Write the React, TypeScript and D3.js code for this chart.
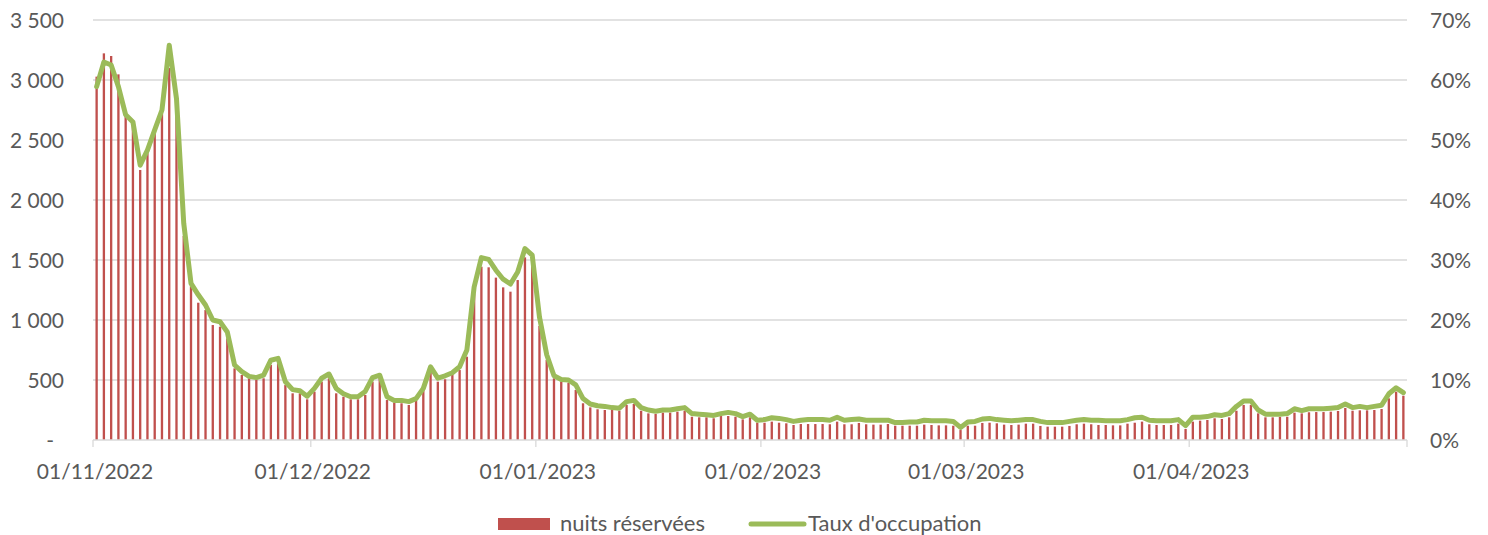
import React, { useEffect, useRef } from 'react';
import * as d3 from 'd3';

// nuits réservées, one value per day from 01/11/2022 to 30/04/2023
const nuits: number[] = [
  3028, 3222, 3200, 3047, 2700, 2650, 2250, 2390, 2555, 2720,
  3100, 2800, 1700, 1280, 1144, 1083, 958, 944, 847, 597,
  542, 514, 500, 514, 625, 639, 458, 389, 389, 339,
  403, 486, 514, 389, 361, 339, 339, 375, 486, 528,
  333, 311, 306, 292, 328, 417, 569, 486, 506, 542,
  583, 694, 1222, 1444, 1439, 1353, 1272, 1236, 1333, 1522,
  1472, 950, 667, 514, 486, 478, 417, 306, 272, 256,
  250, 250, 244, 292, 300, 244, 222, 217, 228, 228,
  236, 244, 194, 189, 189, 181, 200, 200, 194, 172,
  189, 144, 144, 153, 144, 139, 125, 133, 133, 133,
  133, 131, 153, 131, 131, 142, 131, 128, 128, 133,
  119, 119, 119, 119, 128, 125, 122, 122, 119, 83,
  119, 119, 142, 144, 139, 128, 125, 128, 136, 136,
  117, 111, 111, 111, 117, 131, 136, 131, 125, 125,
  122, 122, 136, 144, 153, 131, 125, 125, 125, 136,
  92, 153, 161, 167, 181, 175, 189, 244, 292, 292,
  222, 189, 189, 192, 194, 228, 222, 231, 233, 233,
  236, 242, 267, 244, 247, 247, 250, 258, 347, 403,
  369,
];

// taux d'occupation in %, same days
const taux: number[] = [
  58.9, 63, 62.5, 58.9, 54.2, 53, 45.8, 48.3, 51.7, 55,
  65.8, 56.9, 36.1, 26.1, 24.2, 22.5, 20, 19.7, 18, 12.5,
  11.4, 10.6, 10.4, 10.8, 13.3, 13.6, 9.7, 8.4, 8.2, 7.3,
  8.6, 10.3, 11, 8.6, 7.7, 7.2, 7.2, 8.1, 10.4, 10.8,
  7.2, 6.6, 6.6, 6.4, 6.9, 8.6, 12.2, 10.3, 10.7, 11.2,
  12.2, 15, 25.5, 30.4, 30.1, 28.3, 26.8, 26, 28, 31.9,
  30.8, 20.5, 14.2, 10.7, 10.1, 10, 9.2, 6.9, 6, 5.7,
  5.6, 5.4, 5.3, 6.4, 6.6, 5.4, 5, 4.8, 5, 5,
  5.2, 5.4, 4.4, 4.3, 4.2, 4.1, 4.4, 4.6, 4.4, 3.9,
  4.3, 3.3, 3.4, 3.7, 3.6, 3.4, 3.1, 3.3, 3.4, 3.4,
  3.4, 3.3, 3.8, 3.3, 3.4, 3.5, 3.3, 3.3, 3.3, 3.3,
  2.9, 2.9, 3, 3, 3.3, 3.2, 3.2, 3.2, 3.1, 2.1,
  3, 3.1, 3.5, 3.6, 3.4, 3.3, 3.2, 3.3, 3.4, 3.4,
  3.1, 2.9, 2.9, 2.9, 3.1, 3.3, 3.4, 3.3, 3.3, 3.2,
  3.2, 3.2, 3.4, 3.7, 3.8, 3.3, 3.2, 3.2, 3.2, 3.4,
  2.4, 3.8, 3.8, 3.9, 4.2, 4.1, 4.4, 5.6, 6.5, 6.5,
  5, 4.3, 4.3, 4.3, 4.4, 5.2, 4.9, 5.2, 5.2, 5.2,
  5.3, 5.4, 6, 5.4, 5.6, 5.4, 5.6, 5.8, 7.7, 8.7,
  7.9,
];

// first-of-month ticks (day index) and their labels; last tick closes the axis
const tickDays = [0, 30, 61, 92, 120, 151, 181];
const tickLabels = ['01/11/2022', '01/12/2022', '01/01/2023', '01/02/2023', '01/03/2023', '01/04/2023'];

const leftTicks = [0, 500, 1000, 1500, 2000, 2500, 3000, 3500];
const rightTicks = [0, 10, 20, 30, 40, 50, 60, 70];

const App: React.FC = () => {
  const ref = useRef<SVGSVGElement | null>(null);

  useEffect(() => {
    document.body.style.margin = '0';
    if (!ref.current) return;

    const width = 1488;
    const height = 535;
    const margin = { top: 20, left: 93, right: 1407, bottom: 440 };
    const font = 'Lato, "Open Sans", sans-serif';
    const textColor = '#595959';
    const gridColor = '#D9D9D9';

    const svg = d3.select(ref.current)
      .attr('width', width)
      .attr('height', height);
    svg.selectAll('*').remove();

    const days = d3.range(nuits.length);
    const x = d3.scaleBand<number>()
      .domain(days)
      .range([margin.left, margin.right])
      .paddingInner(0.68)
      .paddingOuter(0.34);
    const xTick = d3.scaleLinear().domain([0, nuits.length]).range([margin.left, margin.right]);
    const yLeft = d3.scaleLinear().domain([0, 3500]).range([margin.bottom, margin.top]);
    const yRight = d3.scaleLinear().domain([0, 70]).range([margin.bottom, margin.top]);

    const fr = d3.formatLocale({ thousands: '\u00a0', grouping: [3], decimal: ',', currency: ['', '€'] });
    const fmt = fr.format(',d');

    // gridlines
    svg.append('g')
      .selectAll('line')
      .data(leftTicks.slice(1))
      .join('line')
      .attr('x1', margin.left)
      .attr('x2', margin.right)
      .attr('y1', d => yLeft(d))
      .attr('y2', d => yLeft(d))
      .attr('stroke', gridColor)
      .attr('stroke-width', 1.3);

    // left axis labels
    svg.append('g')
      .selectAll('text')
      .data(leftTicks)
      .join('text')
      .attr('x', d => (d === 0 ? 54 : 64))
      .attr('y', d => yLeft(d))
      .attr('dy', '0.36em')
      .attr('text-anchor', 'end')
      .attr('font-family', font)
      .attr('font-size', 21)
      .attr('fill', textColor)
      .text(d => (d === 0 ? '-' : fmt(d)));

    // right axis labels
    svg.append('g')
      .selectAll('text')
      .data(rightTicks)
      .join('text')
      .attr('x', 1430)
      .attr('y', d => yRight(d))
      .attr('dy', '0.36em')
      .attr('font-family', font)
      .attr('font-size', 21)
      .attr('fill', textColor)
      .text(d => `${d}%`);

    // bars
    svg.append('g')
      .selectAll('rect')
      .data(nuits)
      .join('rect')
      .attr('x', (_, i) => x(i) as number)
      .attr('width', x.bandwidth())
      .attr('y', d => yLeft(d))
      .attr('height', d => margin.bottom - yLeft(d))
      .attr('fill', '#C0504D');

    // x axis
    const axis = svg.append('g');
    axis.append('line')
      .attr('x1', margin.left)
      .attr('x2', margin.right)
      .attr('y1', margin.bottom)
      .attr('y2', margin.bottom)
      .attr('stroke', gridColor)
      .attr('stroke-width', 1.3);
    axis.selectAll('line.tick')
      .data(tickDays)
      .join('line')
      .attr('class', 'tick')
      .attr('x1', d => xTick(d))
      .attr('x2', d => xTick(d))
      .attr('y1', margin.bottom)
      .attr('y2', margin.bottom + 7)
      .attr('stroke', gridColor)
      .attr('stroke-width', 1.3);
    axis.selectAll('text')
      .data(tickLabels)
      .join('text')
      .attr('x', (_, i) => xTick(tickDays[i]) + 2)
      .attr('y', 479)
      .attr('text-anchor', 'middle')
      .attr('font-family', font)
      .attr('font-size', 21)
      .attr('fill', textColor)
      .text(d => d);

    // occupancy line
    const line = d3.line<number>()
      .x((_, i) => (x(i) as number) + x.bandwidth() / 2)
      .y(d => yRight(d));
    svg.append('path')
      .datum(taux)
      .attr('d', line)
      .attr('fill', 'none')
      .attr('stroke', '#9BBB59')
      .attr('stroke-width', 5)
      .attr('stroke-linejoin', 'round')
      .attr('stroke-linecap', 'round');

    // legend
    const legend = svg.append('g').attr('font-family', font).attr('font-size', 22).attr('fill', textColor);
    legend.append('rect')
      .attr('x', 498).attr('y', 518).attr('width', 52).attr('height', 12)
      .attr('fill', '#C0504D');
    legend.append('text').attr('x', 560).attr('y', 531).text('nuits réservées');
    legend.append('line')
      .attr('x1', 751).attr('x2', 804).attr('y1', 524).attr('y2', 524)
      .attr('stroke', '#9BBB59').attr('stroke-width', 5).attr('stroke-linecap', 'round');
    legend.append('text').attr('x', 808).attr('y', 531).text("Taux d'occupation");
  }, []);

  return <svg ref={ref} style={{ display: 'block' }} />;
};

export default App;
